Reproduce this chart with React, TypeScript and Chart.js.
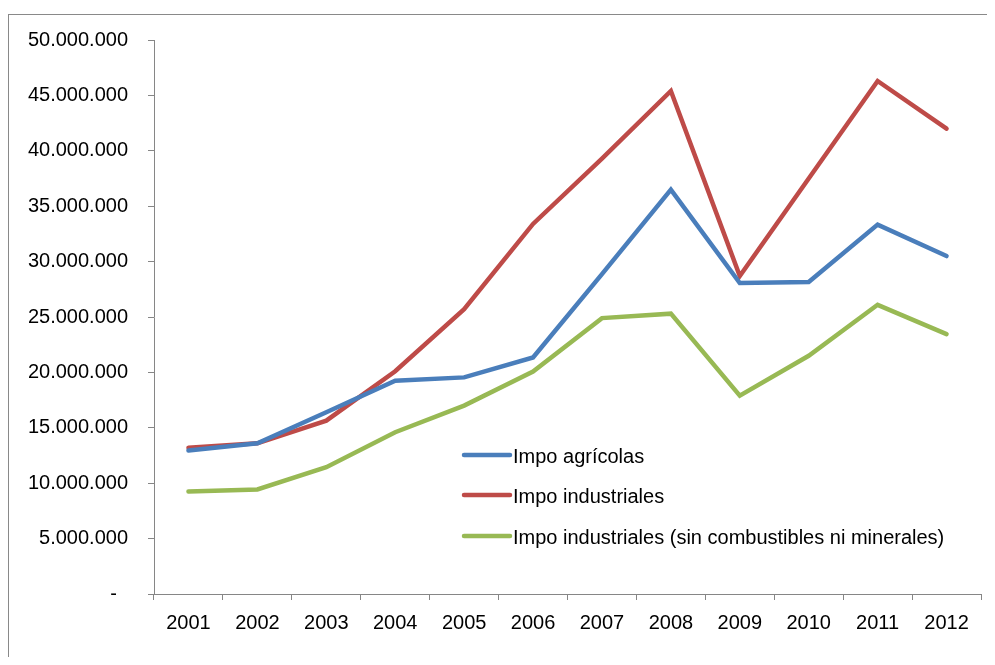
import React, { useEffect, useRef } from "react";
import { Chart, registerables } from "chart.js";

Chart.register(...registerables);

const years = ["2001", "2002", "2003", "2004", "2005", "2006", "2007", "2008", "2009", "2010", "2011", "2012"];
const impoAgricolas = [12950000, 13600000, 16400000, 19250000, 19550000, 21350000, 28870000, 36500000, 28060000, 28150000, 33340000, 30500000];
const impoIndustriales = [13200000, 13600000, 15650000, 20100000, 25700000, 33400000, 39300000, 45400000, 28700000, 37500000, 46300000, 42000000];
const impoIndSinComb = [9260000, 9440000, 11450000, 14600000, 17000000, 20080000, 24900000, 25300000, 17900000, 21500000, 26100000, 23450000];
const seriesNames = ["Impo agrícolas", "Impo industriales", "Impo industriales (sin combustibles ni minerales)"];
const seriesColors = ["#4A7EBB", "#BE4B48", "#98B954"];

const FONT = "'Liberation Sans', Arial, sans-serif";
const AXIS = "#868686";

function fmt(v: number): string {
  if (v === 0) return "-  ";
  return String(Math.round(v)).replace(/\B(?=(\d{3})+(?!\d))/g, ".");
}

const legendPlugin = {
  id: "insideLegend",
  afterDraw(chart: any) {
    const ctx = chart.ctx;
    const area = chart.chartArea;
    const x0 = area.left + 308;
    const rows = [448, 488, 529];
    ctx.save();
    ctx.font = `20px ${FONT}`;
    ctx.textBaseline = "middle";
    ctx.textAlign = "left";
    seriesNames.forEach((name, i) => {
      const y = rows[i];
      ctx.strokeStyle = seriesColors[i];
      ctx.lineWidth = 4.5;
      ctx.lineCap = "round";
      ctx.beginPath();
      ctx.moveTo(x0 + 2, y - 1);
      ctx.lineTo(x0 + 48, y - 1);
      ctx.stroke();
      ctx.fillStyle = "#000";
      ctx.fillText(name, x0 + 51, y + 1);
    });
    ctx.restore();
  },
};

export default function App() {
  const ref = useRef<HTMLCanvasElement | null>(null);
  useEffect(() => {
    document.documentElement.style.overflow = "hidden";
    const canvas = ref.current;
    if (!canvas) return;
    const data = [impoAgricolas, impoIndustriales, impoIndSinComb];
    const chart = new Chart(canvas, {
      type: "line",
      data: {
        labels: years,
        datasets: seriesNames.map((name, i) => ({
          label: name,
          data: data[i],
          borderColor: seriesColors[i],
          backgroundColor: seriesColors[i],
          borderWidth: 4.5,
          pointRadius: 0,
          tension: 0,
          borderCapStyle: "round" as const,
          fill: false,
        })),
      },
      options: {
        responsive: false,
        animation: false,
        layout: { padding: { top: 28, right: 6, left: 0, bottom: 0 } },
        plugins: { legend: { display: false }, tooltip: { enabled: false } },
        scales: {
          x: {
            offset: true,
            grid: { offset: true, drawOnChartArea: false, drawTicks: true, tickLength: 6, color: AXIS, lineWidth: 1 },
            border: { display: true, color: AXIS, width: 1 },
            ticks: { color: "#000", font: { family: FONT, size: 20 }, padding: 11, maxRotation: 0, autoSkip: false },
            afterFit(scale: any) {
              scale.height = 63;
            },
          },
          y: {
            min: 0,
            max: 50000000,
            grid: { drawOnChartArea: false, drawTicks: true, tickLength: 6, color: AXIS, lineWidth: 1 },
            border: { display: true, color: AXIS, width: 1 },
            ticks: {
              stepSize: 5000000,
              color: "#000",
              font: { family: FONT, size: 20 },
              padding: 20,
              callback: (v: any) => fmt(Number(v)),
            },
            afterFit(scale: any) {
              scale.width = 146;
            },
          },
        },
      },
      plugins: [legendPlugin],
    });
    return () => chart.destroy();
  }, []);
  return (
    <div style={{ position: "relative", width: 979, height: 649 }}>
      <div
        style={{
          position: "absolute",
          left: 0,
          top: 6,
          width: 990,
          height: 660,
          borderTop: "1px solid #898989",
          borderLeft: "1px solid #898989",
        }}
      />
      <canvas ref={ref} width={979} height={649} style={{ position: "absolute", left: 0, top: 0 }} />
    </div>
  );
}
